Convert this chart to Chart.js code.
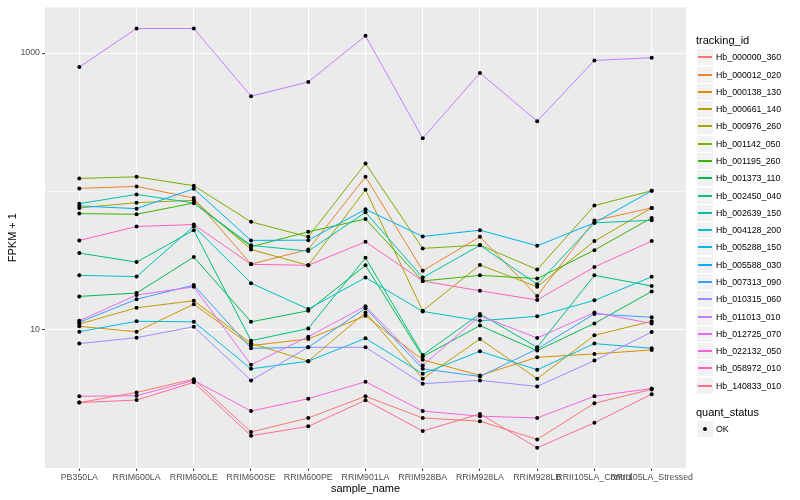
<!DOCTYPE html>
<html>
<head>
<meta charset="utf-8">
<script src="https://cdn.jsdelivr.net/npm/chart.js@4.4.1/dist/chart.umd.min.js"></script>
<style>
  html, body { margin: 0; padding: 0; background: #fff; }
  #wrap { position: relative; width: 800px; height: 500px; font-family: "Liberation Sans", Arial, sans-serif; }
  #chart { position: absolute; left: 0; top: 0; }
  .lg-title { position: absolute; left: 696px; font-size: 11px; line-height: 13px; color: #000; white-space: nowrap; }
  .lg-item { position: absolute; left: 697px; height: 16px; display: flex; align-items: center; white-space: nowrap; }
  .lg-key { position: relative; flex: none; width: 16px; height: 16px; background: #f2f2f2; margin-right: 3px; }
  .lg-key i { position: absolute; left: 1px; width: 14px; top: 7px; height: 2px; }
  .lg-key b { position: absolute; left: 6px; top: 6px; width: 4px; height: 4px; border-radius: 2px; background: #000; }
  .lg-text { font-size: 8.8px; color: #000; }
</style>
</head>
<body>
<div id="wrap">
  <canvas id="chart" width="800" height="500"></canvas>
  <div id="legend"></div>
</div>
<script>
// x categories
const categories = ['PB350LA', 'RRIM600LA', 'RRIM600LE', 'RRIM600SE', 'RRIM600PE', 'RRIM901LA',
  'RRIM928BA', 'RRIM928LA', 'RRIM928LB', 'RRII105LA_Control', 'RRII105LA_Stressed'];

// FPKM + 1 per tracking id
const hb000000_360 = [2.97, 3.52, 4.39, 1.82, 2.30, 3.30, 2.30, 2.18, 1.61, 2.94, 3.70];
const hb000012_020 = [105.1, 108.6, 89.5, 29.8, 38.0, 127.5, 26.7, 46.9, 17.5, 61.5, 75.9];
const hb000138_130 = [10.57, 9.67, 15.3, 7.67, 8.57, 12.6, 6.05, 4.67, 6.32, 6.68, 7.14];
const hb000661_140 = [10.99, 14.4, 16.2, 7.97, 5.92, 13.3, 4.42, 8.57, 4.42, 9.10, 11.5];
const hb000976_260 = [75.9, 82.9, 86.2, 38.0, 29.2, 102.8, 13.7, 29.4, 20.4, 43.7, 75.9];
const hb001142_050 = [124.0, 127.5, 109.9, 60.2, 46.9, 159.0, 38.7, 40.9, 27.2, 78.9, 101.1];
const hb001195_260 = [69.1, 68.3, 82.4, 39.8, 51.0, 63.2, 22.5, 24.7, 23.4, 37.6, 64.3];
const hb001373_110 = [17.4, 18.4, 33.5, 11.4, 13.7, 29.2, 6.39, 10.7, 7.06, 11.1, 18.9];
const hb002450_040 = [35.8, 30.8, 52.4, 8.33, 10.2, 33.1, 6.57, 13.0, 7.46, 24.7, 20.7];
const hb002639_150 = [81.5, 95.1, 82.4, 40.7, 37.0, 70.6, 23.8, 40.7, 21.3, 59.2, 61.9];
const hb004128_200 = [24.7, 24.2, 56.0, 21.7, 14.1, 23.8, 13.55, 11.6, 12.5, 16.3, 24.1];
const hb005288_150 = [9.67, 11.5, 11.4, 5.21, 5.92, 8.66, 4.80, 6.98, 5.13, 7.93, 7.34];
const hb005588_030 = [78.5, 75.0, 104.5, 44.2, 44.4, 74.2, 47.2, 52.4, 40.4, 59.2, 101.1];
const hb007313_090 = [11.3, 16.6, 21.0, 7.34, 7.46, 14.3, 5.21, 4.59, 7.26, 13.0, 12.3];
const hb010315_060 = [7.93, 8.76, 10.5, 4.30, 7.46, 7.46, 4.07, 4.30, 3.89, 5.98, 9.62];
const hb011013_010 = [793, 1505, 1505, 488, 618, 1332, 242, 718, 322, 885, 925];
const hb012725_070 = [11.6, 17.8, 20.4, 5.57, 8.90, 14.8, 5.51, 12.6, 8.71, 13.3, 11.1];
const hb022132_050 = [3.30, 3.33, 4.30, 2.58, 3.17, 4.20, 2.58, 2.37, 2.30, 3.30, 3.76];
const hb058972_010 = [44.2, 55.7, 57.6, 29.7, 29.2, 43.2, 22.5, 19.1, 16.4, 28.4, 43.7];
const hb140833_010 = [2.97, 3.10, 4.16, 1.71, 2.00, 3.09, 1.85, 2.46, 1.40, 2.12, 3.42];

const trackingIds = ['Hb_000000_360', 'Hb_000012_020', 'Hb_000138_130', 'Hb_000661_140', 'Hb_000976_260',
  'Hb_001142_050', 'Hb_001195_260', 'Hb_001373_110', 'Hb_002450_040', 'Hb_002639_150',
  'Hb_004128_200', 'Hb_005288_150', 'Hb_005588_030', 'Hb_007313_090', 'Hb_010315_060',
  'Hb_011013_010', 'Hb_012725_070', 'Hb_022132_050', 'Hb_058972_010', 'Hb_140833_010'];
const series = [hb000000_360, hb000012_020, hb000138_130, hb000661_140, hb000976_260,
  hb001142_050, hb001195_260, hb001373_110, hb002450_040, hb002639_150,
  hb004128_200, hb005288_150, hb005588_030, hb007313_090, hb010315_060,
  hb011013_010, hb012725_070, hb022132_050, hb058972_010, hb140833_010];
const colors = ['#F8766D', '#EA8331', '#D89000', '#C09B00', '#A3A500', '#7CAE00', '#39B600', '#00BB4E',
  '#00BF7D', '#00C1A3', '#00BFC4', '#00BAE0', '#00B0F6', '#35A2FF', '#9590FF', '#C77CFF',
  '#E76BF3', '#FA62DB', '#FF62BC', '#FF6C91'];

// y breaks: labelled majors and the unlabelled minor lines
const yMajor = [10, 1000];
const yBreaks = [1, 10, 100, 1000];

const panelBg = {
  id: 'panelBg',
  beforeDraw(chart) {
    const { ctx, chartArea: a } = chart;
    ctx.save();
    ctx.fillStyle = '#EBEBEB';
    ctx.fillRect(a.left, a.top, a.right - a.left, a.bottom - a.top);
    ctx.restore();
  }
};

const lineSets = series.map((vals, k) => ({
  label: trackingIds[k],
  data: vals.map((v, i) => ({ x: i, y: v })),
  borderColor: colors[k],
  backgroundColor: colors[k],
  borderWidth: 1,
  pointRadius: 0,
  fill: false,
  tension: 0,
  order: 20 - k,
}));

// quant_status = OK points, drawn over every line
const okPoints = [];
series.forEach(vals => vals.forEach((v, i) => okPoints.push({ x: i, y: v })));

const tickFont = { family: '"Liberation Sans", Arial, sans-serif', size: 8.8 };
const titleFont = { family: '"Liberation Sans", Arial, sans-serif', size: 11 };

new Chart(document.getElementById('chart'), {
  type: 'line',
  data: {
    datasets: [...lineSets, {
      label: 'OK',
      data: okPoints,
      showLine: false,
      pointRadius: 2,
      pointHoverRadius: 2,
      pointBackgroundColor: '#000',
      pointBorderWidth: 0,
      order: 0,
    }]
  },
  options: {
    responsive: false,
    animation: false,
    events: [],
    layout: { padding: { top: 5, right: 114, left: 0, bottom: 0 } },
    plugins: { legend: { display: false }, tooltip: { enabled: false } },
    scales: {
      x: {
        type: 'linear',
        min: -0.6,
        max: 10.6,
        afterBuildTicks: s => { s.ticks = categories.map((c, i) => ({ value: i })); },
        afterFit: s => { s.height = 32; },
        border: { display: false },
        grid: { color: '#FFFFFF', lineWidth: 1.1, tickColor: '#333333', tickLength: 3, tickWidth: 1 },
        ticks: {
          autoSkip: false, maxRotation: 0, minRotation: 0, padding: 1,
          color: '#4D4D4D', font: tickFont,
          callback: v => categories[v]
        },
        title: { display: true, text: 'sample_name', color: '#000', font: titleFont, padding: { top: 2, bottom: 4 } }
      },
      y: {
        type: 'logarithmic',
        min: 1,
        max: 2143,
        afterBuildTicks: s => { s.ticks = yBreaks.map(v => ({ value: v })); },
        afterFit: s => { s.width = 45; },
        border: { display: false },
        grid: {
          color: '#FFFFFF',
          lineWidth: c => (yMajor.includes(c.tick && c.tick.value) ? 1.1 : 0.55),
          tickColor: c => (yMajor.includes(c.tick && c.tick.value) ? '#333333' : 'rgba(0,0,0,0)'),
          tickLength: 3,
          tickWidth: 1
        },
        ticks: {
          color: '#4D4D4D', font: tickFont, padding: 2,
          callback: v => (yMajor.includes(v) ? String(v) : '')
        },
        title: { display: true, text: 'FPKM + 1', color: '#000', font: titleFont, padding: { top: 6, bottom: 2 } }
      }
    }
  },
  plugins: [panelBg]
});

// legend (tracking_id + quant_status)
const legend = document.getElementById('legend');
let html = '<div class="lg-title" style="top:34px">tracking_id</div>';
trackingIds.forEach((id, k) => {
  const top = Math.round(57.3 + 17.28 * k - 8);
  html += `<div class="lg-item" style="top:${top}px">
    <span class="lg-key"><i style="background:${colors[k]}"></i></span><span class="lg-text">${id}</span></div>`;
});
html += '<div class="lg-title" style="top:406px">quant_status</div>';
html += `<div class="lg-item" style="top:${Math.round(429.3 - 8)}px">
  <span class="lg-key"><b></b></span><span class="lg-text">OK</span></div>`;
legend.innerHTML = html;
</script>
</body>
</html>
